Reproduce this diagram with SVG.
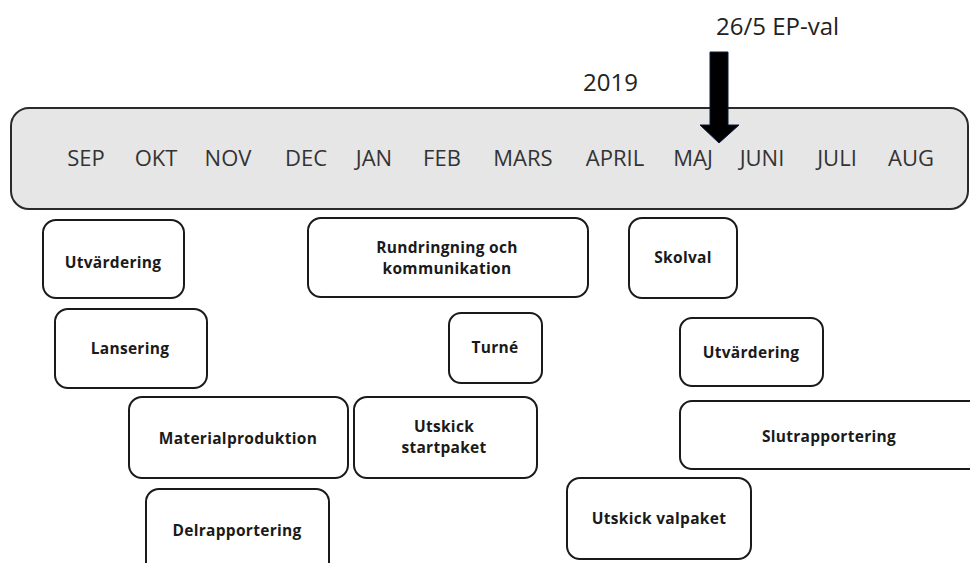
<svg xmlns="http://www.w3.org/2000/svg" width="970" height="563" viewBox="0 0 970 563">
<style>
.month{font-family:"Open Sans","Liberation Sans",sans-serif;font-size:22px;fill:#333;text-anchor:middle}
.top{font-family:"Open Sans","Liberation Sans",sans-serif;font-size:24px;fill:#222}
.box{fill:#fff;stroke:#1a1a1a;stroke-width:2}
.lbl{font-family:"Open Sans","Liberation Sans",sans-serif;font-size:15.5px;font-weight:bold;fill:#1a1a1a;text-anchor:middle;letter-spacing:0.3px}
</style>
<rect width="970" height="563" fill="#fff"/>
<g id="timeline">
<rect x="11" y="108" width="957" height="101" rx="18" fill="#e6e6e6" stroke="#2a2a2a" stroke-width="2"/>
<text class="month" x="86" y="166">SEP</text>
<text class="month" x="156" y="166">OKT</text>
<text class="month" x="228" y="166">NOV</text>
<text class="month" x="306" y="166">DEC</text>
<text class="month" x="374" y="166">JAN</text>
<text class="month" x="442" y="166">FEB</text>
<text class="month" x="523" y="166">MARS</text>
<text class="month" x="615" y="166">APRIL</text>
<text class="month" x="693" y="166">MAJ</text>
<text class="month" x="762" y="166">JUNI</text>
<text class="month" x="837" y="166">JULI</text>
<text class="month" x="911" y="166">AUG</text>
</g>
<g id="year"><text class="top" x="583" y="91">2019</text></g>
<g id="epval">
<text class="top" x="716" y="35">26/5 EP-val</text>
</g>
<g id="connectors">
<path d="M710 52 H728 V125 H739 L719 143 L700 125 H710 Z" fill="#000" stroke="#0d1a3a" stroke-width="1"/>
</g>
<g id="utvardering1"><rect class="box" x="43" y="220" width="141" height="78" rx="13"/><text class="lbl" x="113" y="268">Utvärdering</text></g>
<g id="lansering"><rect class="box" x="55" y="309" width="152" height="79" rx="13"/><text class="lbl" x="130" y="354">Lansering</text></g>
<g id="materialproduktion"><rect class="box" x="129" y="397" width="219" height="81" rx="13"/><text class="lbl" x="238" y="444">Materialproduktion</text></g>
<g id="delrapportering"><rect class="box" x="146" y="489" width="183" height="90" rx="13"/><text class="lbl" x="237" y="536">Delrapportering</text></g>
<g id="rundringning"><rect class="box" x="308" y="218" width="280" height="79" rx="13"/><text class="lbl" x="447" y="253">Rundringning och</text><text class="lbl" x="447" y="274">kommunikation</text></g>
<g id="turne"><rect class="box" x="449" y="313" width="93" height="70" rx="12"/><text class="lbl" x="495" y="353">Turné</text></g>
<g id="startpaket"><rect class="box" x="354" y="397" width="183" height="81" rx="13"/><text class="lbl" x="444" y="432">Utskick</text><text class="lbl" x="444" y="453">startpaket</text></g>
<g id="skolval"><rect class="box" x="629" y="218" width="108" height="80" rx="13"/><text class="lbl" x="683" y="263">Skolval</text></g>
<g id="utvardering2"><rect class="box" x="680" y="318" width="143" height="68" rx="12"/><text class="lbl" x="751" y="358">Utvärdering</text></g>
<g id="slutrapportering"><rect class="box" x="680" y="401" width="305" height="68" rx="12"/><text class="lbl" x="829" y="442">Slutrapportering</text></g>
<g id="valpaket"><rect class="box" x="567" y="478" width="184" height="81" rx="13"/><text class="lbl" x="659" y="524">Utskick valpaket</text></g>
</svg>
